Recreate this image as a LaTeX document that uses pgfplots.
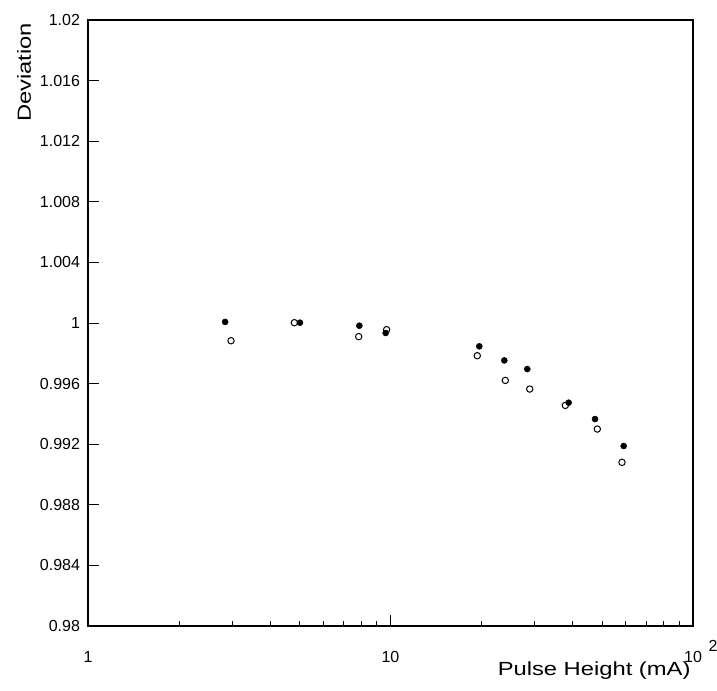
\documentclass[border=0pt]{standalone}
\usepackage{fontspec}
\setmainfont{Liberation Sans}
\newfontfamily\labelfont[FakeStretch=1.25]{Liberation Sans}
\usepackage{pgfplots}
\pgfplotsset{compat=1.18}
\begin{document}
\begin{tikzpicture}
\path[use as bounding box] (-66pt,-48.75pt) rectangle (471.75pt,469.5pt);
\begin{axis}[
  at={(0,0)}, anchor=south west,
  scale only axis,
  width=453.75pt, height=454.5pt,
  xmode=log, xmin=1, xmax=100,
  ymin=0.98, ymax=1.02,
  axis line style={line width=0.9pt},
  tick align=inside,
  xtick pos=bottom, ytick pos=left,
  major tick length=8.25pt, minor tick length=3.75pt,
  every tick/.style={black, line width=0.6pt},
  xtick={1,10,100},
  xticklabels={1,10,{10\rlap{\hspace{5pt}\smash{\raisebox{8.5pt}{2}}}}},
  ytick={0.98,0.984,0.988,0.992,0.996,1,1.004,1.008,1.012,1.016,1.02},
  yticklabels={0.98,0.984,0.988,0.992,0.996,1,1.004,1.008,1.012,1.016,1.02},
  minor y tick num=0,
  /pgf/number format/assume math mode=true,
  tick label style={font=\fontsize{12}{14}\selectfont},
  xticklabel style={yshift=-15.6pt},
  yticklabel style={xshift=-2.5pt},
  xlabel={Pulse Height (mA)},
  ylabel={Deviation},
  xlabel style={at={(axis description cs:1,0)}, anchor=base east, inner sep=0pt,
    yshift=-37.5pt, xshift=-1.7pt, font=\labelfont\fontsize{14.25}{16}\selectfont},
  ylabel style={at={(axis description cs:0,1)}, anchor=base east, inner sep=0pt,
    xshift=-2pt, yshift=42.75pt, font=\labelfont\fontsize{14.25}{16}\selectfont},
  clip=false,
]
\addplot[only marks, mark=*, mark size=2.25pt, black] coordinates {
  (2.84,1.00007) (5.02,1.00002) (7.89,0.99982) (9.64,0.99934)
  (19.66,0.99846) (23.78,0.99753) (28.33,0.99696) (38.82,0.99474)
  (47.43,0.99366) (59.0,0.99188)
};
\addplot[only marks, mark=o, mark size=2.4pt, black, mark options={line width=0.75pt}] coordinates {
  (2.97,0.99883) (4.81,1.00002) (7.85,0.99910) (9.71,0.99956)
  (19.36,0.99784) (23.96,0.99621) (28.86,0.99564) (37.84,0.99456)
  (48.27,0.99300) (58.25,0.99080)
};
\end{axis}
\end{tikzpicture}
\end{document}
